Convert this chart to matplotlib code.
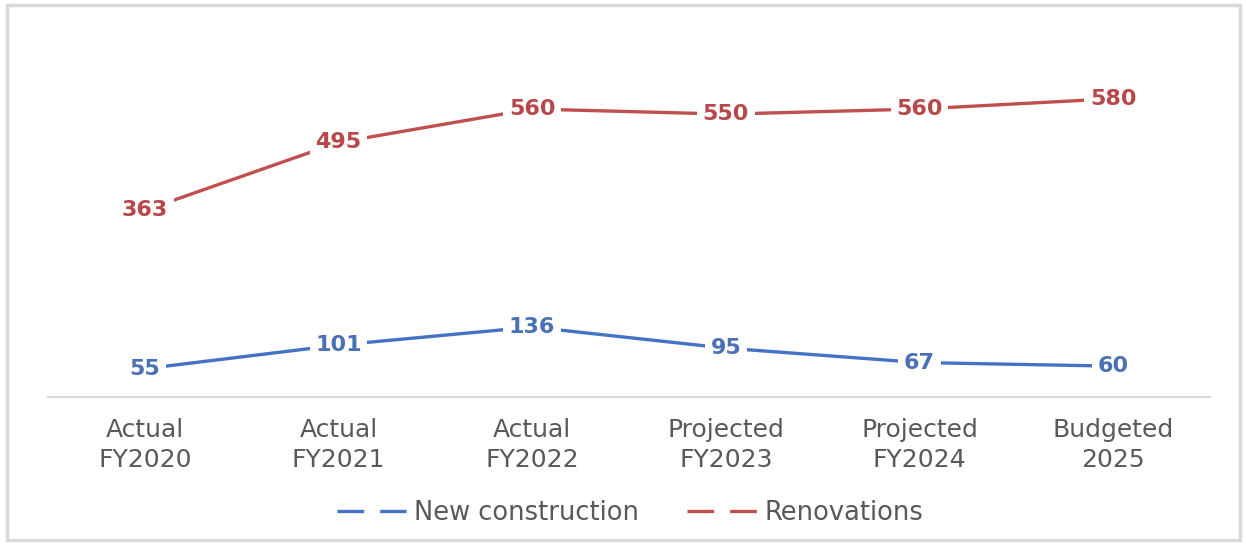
import matplotlib
matplotlib.use("Agg")
import matplotlib.pyplot as plt
from matplotlib.lines import Line2D
from matplotlib.patches import Rectangle

categories = ["Actual\nFY2020", "Actual\nFY2021", "Actual\nFY2022",
              "Projected\nFY2023", "Projected\nFY2024", "Budgeted\n2025"]
new_construction = [55, 101, 136, 95, 67, 60]
renovations = [363, 495, 560, 550, 560, 580]

BLUE = "#4472C4"
BLUE_TXT = "#4A70B5"
RED = "#C0504D"
RED_TXT = "#B8474A"
GRAY_TXT = "#595959"

plt.rcParams['font.family'] = ['DejaVu Sans']

fig = plt.figure(figsize=(12.46, 5.44), dpi=100)
fig.patch.set_facecolor("white")
fig.patches.append(Rectangle((7/1246, 4/544), 1233/1246, 535/544, transform=fig.transFigure,
                             fill=False, edgecolor="#D9D9D9", linewidth=2.5))

ax = fig.add_axes([48/1246, (544-397)/544, (1210-48)/1246, 360/544])
x = list(range(len(categories)))

ax.plot(x, new_construction, color=BLUE, linewidth=2.4, solid_capstyle="butt")
ax.plot(x, renovations, color=RED, linewidth=2.4, solid_capstyle="butt")

for xi, v in zip(x, new_construction):
    ax.text(xi, v, str(v), ha="center", va="center", fontsize=16, fontweight="bold",
            color=BLUE_TXT, bbox=dict(facecolor="white", edgecolor="none", pad=4))
for xi, v in zip(x, renovations):
    ax.text(xi, v, str(v), ha="center", va="center", fontsize=16, fontweight="bold",
            color=RED_TXT, bbox=dict(facecolor="white", edgecolor="none", pad=4))

ax.set_xlim(-0.5, len(categories) - 0.5)
ax.set_ylim(0, 700)
ax.set_xticks(x)
ax.set_xticklabels(categories, fontsize=18, color=GRAY_TXT, linespacing=1.3)
ax.tick_params(axis="x", length=0, pad=15)
ax.set_yticks([])
for s in ["top", "right", "left"]:
    ax.spines[s].set_visible(False)
ax.spines["bottom"].set_color("#D9D9D9")
ax.spines["bottom"].set_linewidth(1.5)

handles = [Line2D([], [], color=BLUE, linewidth=2.4, dashes=(8, 4.8)),
           Line2D([], [], color=RED, linewidth=2.4, dashes=(8, 4.8))]
fig.legend(handles, ["New construction", "Renovations"], loc="center",
           bbox_to_anchor=(630/1246, 1 - 513/544), ncol=2, frameon=False,
           fontsize=18.5, labelcolor=GRAY_TXT, handlelength=2.7, handletextpad=0.3,
           columnspacing=1.9)

fig.savefig("out.png", dpi=100, facecolor="white")
